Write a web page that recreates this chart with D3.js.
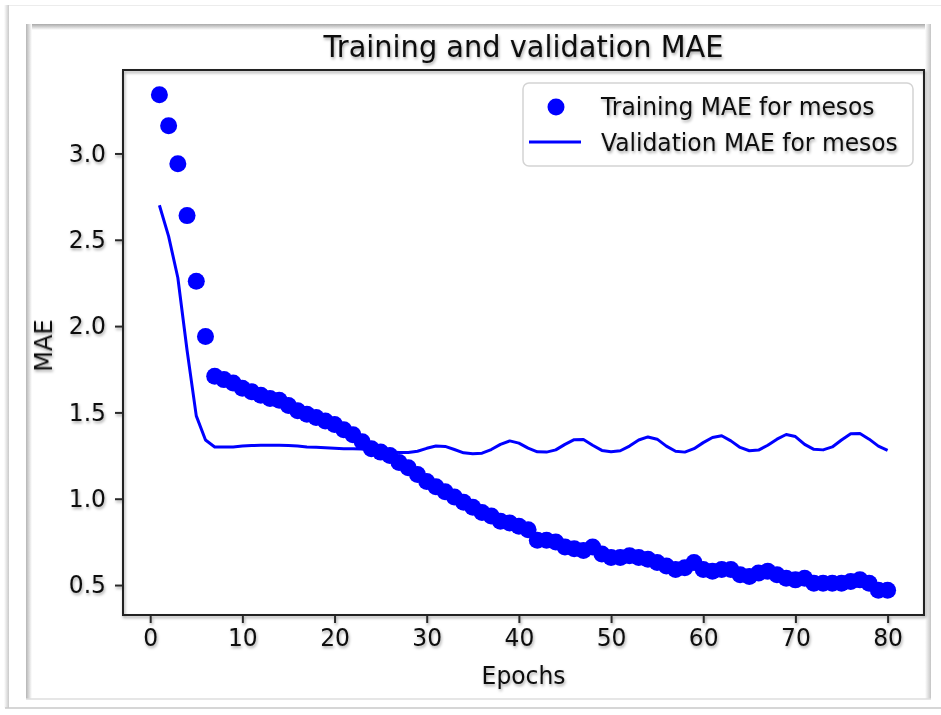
<!DOCTYPE html>
<html>
<head>
<meta charset="utf-8">
<script src="https://cdn.jsdelivr.net/npm/d3@7"></script>
<style>
  html, body { margin: 0; padding: 0; background: #ffffff; }
  svg { display: block; }
  text { font-family: "DejaVu Sans", sans-serif; fill: #111; }
</style>
</head>
<body>
<svg id="chart" width="941" height="715"></svg>
<script>
// Mean absolute error per epoch for the "mesos" model
const trainingMAE = [
  3.34, 3.16, 2.94, 2.64, 2.26, 1.94, 1.71, 1.69, 1.67, 1.64,
  1.62, 1.60, 1.58, 1.57, 1.54, 1.51, 1.49, 1.47, 1.45, 1.43,
  1.40, 1.37, 1.33, 1.29, 1.27, 1.25, 1.21, 1.18, 1.14, 1.10,
  1.07, 1.04, 1.01, 0.98, 0.95, 0.92, 0.90, 0.87, 0.86, 0.84,
  0.82, 0.76, 0.76, 0.75, 0.72, 0.71, 0.70, 0.72, 0.68, 0.66,
  0.66, 0.67, 0.66, 0.65, 0.63, 0.61, 0.59, 0.60, 0.63, 0.59,
  0.58, 0.59, 0.59, 0.56, 0.55, 0.57, 0.58, 0.56, 0.54, 0.53,
  0.54, 0.51, 0.51, 0.51, 0.51, 0.52, 0.53, 0.51, 0.47, 0.47
];
const validationMAE = [
  2.70, 2.52, 2.28, 1.86, 1.48, 1.34, 1.30, 1.30, 1.30, 1.305,
  1.308, 1.31, 1.31, 1.31, 1.308, 1.305, 1.30, 1.298, 1.295, 1.292,
  1.29, 1.29, 1.288, 1.28, 1.275, 1.272, 1.268, 1.268, 1.275, 1.292,
  1.305, 1.303, 1.285, 1.266, 1.26, 1.264, 1.285, 1.315, 1.335, 1.322,
  1.293, 1.272, 1.27, 1.283, 1.315, 1.342, 1.343, 1.31, 1.28, 1.272,
  1.278, 1.305, 1.34, 1.358, 1.345, 1.305, 1.275, 1.27, 1.29, 1.325,
  1.355, 1.365, 1.335, 1.297, 1.278, 1.282, 1.31, 1.345, 1.372, 1.36,
  1.315, 1.286, 1.283, 1.30, 1.34, 1.376, 1.378, 1.345, 1.305, 1.28
];
const epochs = trainingMAE.map((_, i) => i + 1);
const xTicks = [0, 10, 20, 30, 40, 50, 60, 70, 80];
const yTicks = [0.5, 1.0, 1.5, 2.0, 2.5, 3.0];
const titleText = "Training and validation MAE";
const xLabel = "Epochs";
const yLabel = "MAE";
const legendLabels = ["Training MAE for mesos", "Validation MAE for mesos"];

const svg = d3.select("#chart");
const W = 941, H = 715;
const plot = { left: 123, right: 924, top: 70, bottom: 615 };
const blue = "#0000ff";
const sx = 0.975; // slight horizontal squeeze applied to labels

// ---- shadows / gradients for the two framed panels ----
const defs = svg.append("defs");
function grad(id, x1, y1, x2, y2, c0, c1) {
  const g = defs.append("linearGradient").attr("id", id)
    .attr("x1", x1).attr("y1", y1).attr("x2", x2).attr("y2", y2);
  g.append("stop").attr("offset", "0%").attr("stop-color", c0);
  g.append("stop").attr("offset", "100%").attr("stop-color", c1);
}
grad("gTop", 0, 0, 0, 1, "#a9a9a9", "#ffffff");
grad("gLeft", 0, 0, 1, 0, "#b5b5b5", "#ffffff");
grad("gRight", 0, 0, 1, 0, "#ffffff", "#c4c4c4");
grad("gOuterLeft", 0, 0, 1, 0, "#ffffff", "#c9c9c9");
const shadow = defs.append("filter").attr("id", "soft")
  .attr("x", "-20%").attr("y", "-20%").attr("width", "140%").attr("height", "160%");
shadow.append("feDropShadow").attr("dx", 1).attr("dy", 2)
  .attr("stdDeviation", 1.4).attr("flood-color", "#000").attr("flood-opacity", 0.35);

svg.append("rect").attr("width", W).attr("height", H).attr("fill", "#fff");
// outer panel
svg.append("rect").attr("x", 4).attr("y", 5).attr("width", 5).attr("height", 703)
  .attr("fill", "url(#gOuterLeft)");
svg.append("line").attr("x1", 9).attr("x2", W).attr("y1", 5.5).attr("y2", 5.5)
  .attr("stroke", "#ececec").attr("stroke-width", 1);
svg.append("line").attr("x1", 5).attr("x2", W).attr("y1", 708).attr("y2", 708)
  .attr("stroke", "#c8c8c8").attr("stroke-width", 1.5);
// inner panel
svg.append("rect").attr("x", 26).attr("y", 24).attr("width", 904).attr("height", 6)
  .attr("fill", "url(#gTop)");
svg.append("rect").attr("x", 26).attr("y", 24).attr("width", 6).attr("height", 675)
  .attr("fill", "url(#gLeft)");
svg.append("rect").attr("x", 925).attr("y", 24).attr("width", 6).attr("height", 675)
  .attr("fill", "url(#gRight)");
svg.append("line").attr("x1", 26).attr("x2", 931).attr("y1", 699).attr("y2", 699)
  .attr("stroke", "#dedede").attr("stroke-width", 1.5);

// ---- scales with 5% data margins ----
const xPad = 0.05 * (d3.max(epochs) - d3.min(epochs));
const x = d3.scaleLinear()
  .domain([d3.min(epochs) - xPad, d3.max(epochs) + xPad])
  .range([plot.left, plot.right]);
const allY = trainingMAE.concat(validationMAE);
const yPad = 0.05 * (d3.max(allY) - d3.min(allY));
const y = d3.scaleLinear()
  .domain([d3.min(allY) - yPad, d3.max(allY) + yPad])
  .range([plot.bottom, plot.top]);

// ---- data marks ----
const marks = svg.append("g");
marks.append("path")
  .datum(validationMAE)
  .attr("fill", "none").attr("stroke", blue).attr("stroke-width", 3)
  .attr("stroke-linejoin", "round")
  .attr("d", d3.line().x((d, i) => x(epochs[i])).y(d => y(d)));
marks.selectAll("circle.train")
  .data(trainingMAE).join("circle").attr("class", "train")
  .attr("cx", (d, i) => x(epochs[i])).attr("cy", d => y(d))
  .attr("r", 8.5).attr("fill", blue);

// ---- axes ----
const axes = svg.append("g").attr("filter", "url(#soft)");
const xAxis = axes.append("g").attr("transform", `translate(0,${plot.bottom})`)
  .call(d3.axisBottom(x).tickValues(xTicks).tickFormat(d3.format("d"))
    .tickSize(8).tickPadding(6).tickSizeOuter(0));
const yAxis = axes.append("g").attr("transform", `translate(${plot.left},0)`)
  .call(d3.axisLeft(y).tickValues(yTicks).tickFormat(d3.format(".1f"))
    .tickSize(8).tickPadding(9).tickSizeOuter(0));
[xAxis, yAxis].forEach(a => {
  a.select(".domain").remove();
  a.selectAll(".tick line").attr("stroke", "#2a2a2a").attr("stroke-width", 2);
  a.selectAll(".tick text").attr("font-size", 24).attr("fill", "#111")
    .attr("font-family", "DejaVu Sans");
});
xAxis.selectAll(".tick text").attr("transform", `scale(${sx},1)`);
yAxis.selectAll(".tick text")
  .attr("x", -17 / sx).attr("transform", `scale(${sx},1)`);

// frame around the plotting area
axes.append("rect")
  .attr("x", plot.left).attr("y", plot.top)
  .attr("width", plot.right - plot.left).attr("height", plot.bottom - plot.top)
  .attr("fill", "none").attr("stroke", "#222").attr("stroke-width", 2);

// ---- title and axis labels ----
axes.append("text")
  .attr("transform", `translate(${(plot.left + plot.right) / 2},57) scale(0.93,1)`)
  .attr("text-anchor", "middle").attr("font-size", 31).text(titleText);
axes.append("text")
  .attr("transform", `translate(${(plot.left + plot.right) / 2},684) scale(${sx},1)`)
  .attr("text-anchor", "middle").attr("font-size", 24).text(xLabel);
axes.append("text")
  .attr("transform", `translate(52,${(plot.top + plot.bottom) / 2 + 3}) rotate(-90)`)
  .attr("text-anchor", "middle").attr("font-size", 24).text(yLabel);

// ---- legend ----
const legend = svg.append("g");
legend.append("rect")
  .attr("x", 523).attr("y", 83).attr("width", 390).attr("height", 83)
  .attr("rx", 6).attr("fill", "#fff").attr("fill-opacity", 0.8)
  .attr("stroke", "#d4d4d4").attr("stroke-width", 1.5);
legend.append("circle").attr("cx", 556).attr("cy", 107).attr("r", 8.5).attr("fill", blue);
legend.append("line").attr("x1", 529).attr("x2", 581).attr("y1", 142).attr("y2", 142)
  .attr("stroke", blue).attr("stroke-width", 3);
const legendText = legend.append("g").attr("filter", "url(#soft)");
legendLabels.forEach((lab, i) => {
  legendText.append("text")
    .attr("transform", `translate(601,${115 + i * 36}) scale(${sx},1)`)
    .attr("font-size", 24).text(lab);
});
</script>
</body>
</html>
